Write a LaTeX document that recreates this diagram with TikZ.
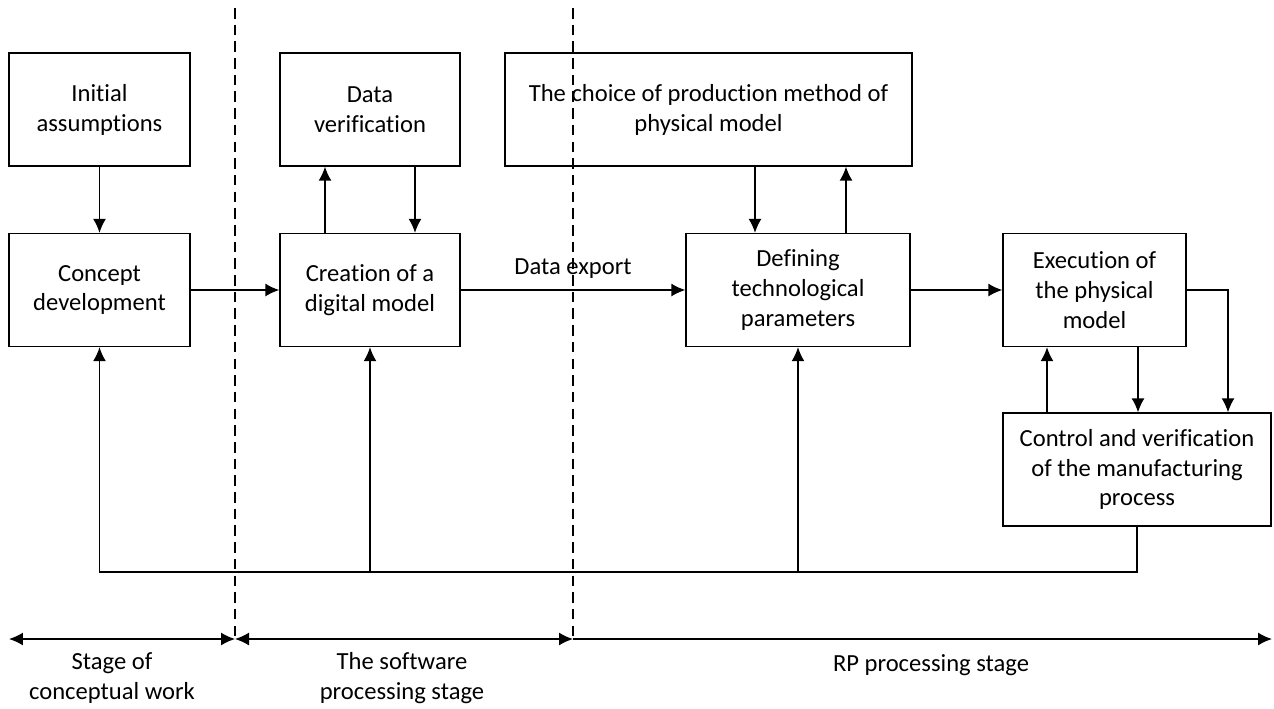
\documentclass[tikz,border=0pt]{standalone}
\usepackage{fontspec}
\setmainfont{Carlito}[Ligatures=NoCommon]
\usetikzlibrary{arrows.meta}
\usetikzlibrary{positioning}
\usetikzlibrary{calc}

\begin{document}
\begin{tikzpicture}[x=0.02cm, y=-0.02cm, line width=0.8pt,
	every node/.style={font=\fontsize{14}{17}\selectfont, align=center},
	stagebox/.style={draw, rectangle, inner sep=2pt, minimum height=2.26cm},
	arr/.style={-{Latex[length=2.8mm,width=2.6mm]}},
	dblarr/.style={{Latex[length=2.8mm,width=2.6mm]}-{Latex[length=2.8mm,width=2.6mm]}}]
% Process of rapid prototyping, three stages

\useasboundingbox (0,0) rectangle (1274,708);

% Coordinates
\coordinate (fb) at (0,572);
\coordinate (tl) at (0,639);

% Boxes
\node[stagebox, minimum width=3.62cm] (init) at (99.5,109.5) {Initial\\assumptions};
\node[stagebox, minimum width=3.62cm] (concept) at (99.5,290) {Concept\\development};
\node[stagebox, minimum width=3.6cm] (dataver) at (370,109.5) {Data\\verification};
\node[stagebox, minimum width=3.6cm] (creation) at (370,290) {Creation of a\\digital model};
\node[stagebox, minimum width=8.14cm] (choice) at (708.5,109.5) {The choice of production method of\\physical model};
\node[stagebox, minimum width=4.48cm] (defining) at (798,290) {Defining\\technological\\parameters};
\node[stagebox, minimum width=3.66cm] (execution) at (1094.5,290) {Execution of\\the physical\\model};
\node[stagebox, minimum width=5.36cm] (control) at (1137,469.5) {Control and verification\\of the manufacturing\\process};

% Stage borders
\draw[line width=0.6pt, dash pattern=on 6pt off 3.5pt] (235,8) -- (235,640);
\draw[line width=0.6pt, dash pattern=on 6pt off 3.5pt] (573,8) -- (573,640);

% Connections
\draw[arr] (init) -- (concept);
\draw[arr] (concept) -- (creation);
\draw[arr] (creation.north -| 325,0) -- (dataver.south -| 325,0);
\draw[arr] (dataver.south -| 415,0) -- (creation.north -| 415,0);
\draw[arr] (creation) -- node[above=3pt]{Data export} (defining);
\draw[arr] (choice.south -| 755,0) -- (defining.north -| 755,0);
\draw[arr] (defining.north -| 846,0) -- (choice.south -| 846,0);
\draw[arr] (defining) -- (execution);
\draw[arr] (execution.east) -| (control.north -| 1228,0);
\draw[arr] (execution.south -| 1138,0) -- (control.north -| 1138,0);
\draw[arr] (control.north -| 1047,0) -- (execution.south -| 1047,0);

% Feedback loop
\draw[arr] (control.south) -- (control.south |- fb) -| (concept.south);
\draw[arr] (creation.south |- fb) -- (creation.south);
\draw[arr] (defining.south |- fb) -- (defining.south);

% Time line
\draw[dblarr] (9,0 |- tl) -- (235,0 |- tl);
\draw[dblarr] (235,0 |- tl) -- (573,0 |- tl);
\draw[arr] (573,0 |- tl) -- (1272,0 |- tl);
\node (lab1) at (112,678) {Stage of\\conceptual work};
\node (lab2) at (402,678) {The software\\processing stage};
\node (lab3) at (931,665) {RP processing stage};
\end{tikzpicture}
\end{document}
